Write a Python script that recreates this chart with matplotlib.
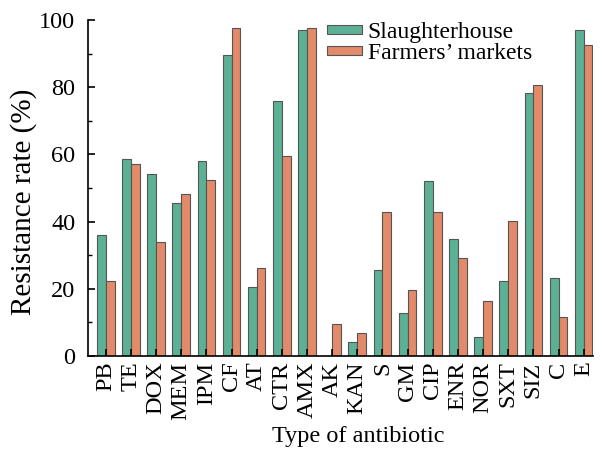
import matplotlib
matplotlib.use('Agg')
import matplotlib.pyplot as plt
from matplotlib.ticker import MultipleLocator
import numpy as np

# antibiotic resistance rates
DRUGS = ['PB','TE','DOX','MEM','IPM','CF','AT','CTR','AMX','AK','KAN',
         'S','GM','CIP','ENR','NOR','SXT','SIZ','C','E']
SLAUGHTER = [36.1,58.5,54.3,45.6,57.9,89.6,20.6,76.0,96.9,0.0,4.1,
             25.6,12.7,52.0,34.9,5.6,22.2,78.3,23.1,97.0]
MARKETS = [22.3,57.1,34.0,48.1,52.3,97.5,26.1,59.5,97.5,9.4,6.8,
           42.7,19.7,42.8,29.3,16.3,40.2,80.7,11.6,92.7]

GREEN = '#5cb095'
ORANGE = '#e28a6a'

plt.rcParams['font.family'] = ['Liberation Serif', 'DejaVu Serif']
plt.rcParams['font.size'] = 17

fig = plt.figure(figsize=(6.06,4.5),dpi=100)
ax = fig.add_axes([0.145,0.209,0.8335,0.7466])

x = np.arange(len(DRUGS))
w = 0.35
ax.bar(x-w/2,SLAUGHTER,w,color=GREEN,edgecolor='#555555',linewidth=0.8,label='Slaughterhouse')
ax.bar(x+w/2,MARKETS,w,color=ORANGE,edgecolor='#555555',linewidth=0.8,label="Farmers\u2019 markets")

ax.set_xlim(-0.71,len(DRUGS)-1+0.37)
ax.set_ylim(0,100)
ax.yaxis.set_major_locator(MultipleLocator(20))
ax.yaxis.set_minor_locator(MultipleLocator(10))
ax.set_xticks(x)
ax.set_xticklabels(DRUGS,rotation=90)
ax.tick_params(axis='both',direction='in',length=5,width=1.2,labelsize=17.5)
ax.tick_params(axis='y',which='minor',direction='in',length=3,width=1.0)
ax.tick_params(axis='y',pad=9)
ax.tick_params(axis='x',pad=4)
ax.spines['top'].set_visible(False)
ax.spines['right'].set_visible(False)
for s in ['left','bottom']:
  ax.spines[s].set_linewidth(1.2)

ax.set_ylabel('Resistance rate (%)',fontsize=21)
ax.yaxis.set_label_coords(-0.101,0.458)
ax.set_xlabel('Type of antibiotic',fontsize=17.5)
ax.xaxis.set_label_coords(0.535,-0.208)

leg = ax.legend(loc='upper left',bbox_to_anchor=(0.473,0.993),frameon=False,
                fontsize=17,handlelength=1.48,handleheight=0.22,
                handletextpad=0.25,labelspacing=0.0,borderaxespad=0,borderpad=0)

fig.savefig('out.png',dpi=100)
